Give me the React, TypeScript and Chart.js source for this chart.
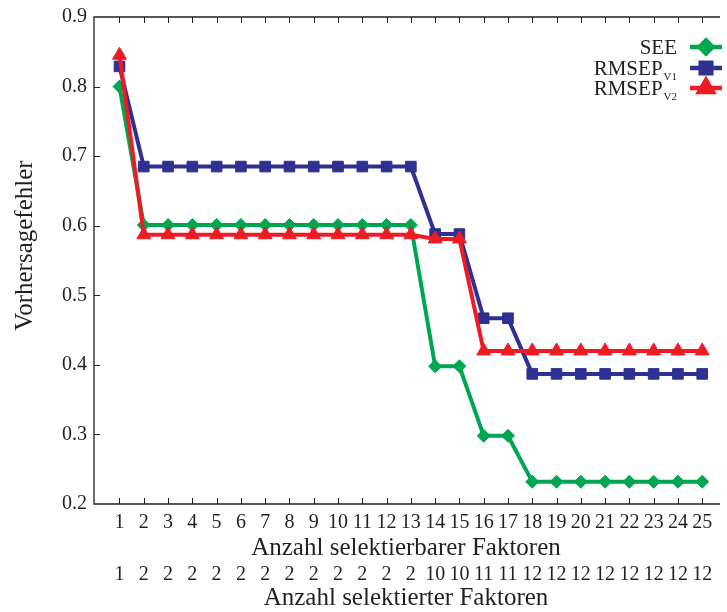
import { useEffect, useRef } from "react";
import { Chart, registerables } from "chart.js";
import { drawPoint } from "chart.js/helpers";

Chart.register(...registerables);

// Number of selectable factors (x axis) and how many were actually selected
const selectableFactors = [1, 2, 3, 4, 5, 6, 7, 8, 9, 10, 11, 12, 13, 14, 15, 16, 17, 18, 19, 20, 21, 22, 23, 24, 25];
const selectedFactors = [1, 2, 2, 2, 2, 2, 2, 2, 2, 2, 2, 2, 2, 10, 10, 11, 11, 12, 12, 12, 12, 12, 12, 12, 12];

// Prediction errors
const seeValues = [0.8, 0.601, 0.601, 0.601, 0.601, 0.601, 0.601, 0.601, 0.601, 0.601, 0.601, 0.601, 0.601, 0.398, 0.398, 0.298, 0.298, 0.232, 0.232, 0.232, 0.232, 0.232, 0.232, 0.232, 0.232];
const rmsepV1Values = [0.829, 0.685, 0.685, 0.685, 0.685, 0.685, 0.685, 0.685, 0.685, 0.685, 0.685, 0.685, 0.685, 0.588, 0.588, 0.467, 0.467, 0.387, 0.387, 0.387, 0.387, 0.387, 0.387, 0.387, 0.387];
const rmsepV2Values = [0.845, 0.587, 0.587, 0.587, 0.587, 0.587, 0.587, 0.587, 0.587, 0.587, 0.587, 0.587, 0.587, 0.581, 0.581, 0.42, 0.42, 0.42, 0.42, 0.42, 0.42, 0.42, 0.42, 0.42, 0.42];

const yTickValues = [0.2, 0.3, 0.4, 0.5, 0.6, 0.7, 0.8, 0.9];

const yTitle = "Vorhersagefehler";
const legendMain = ["SEE", "RMSEP", "RMSEP"];
const legendSub = ["", "V1", "V2"];

const FONT = "'Liberation Serif', 'Times New Roman', serif";
const INK = "#231f20";
const GREEN = "#00a651";
const BLUE = "#2e3192";
const RED = "#ed1c24";

const toPoints = (values: number[]) => values.map((v, i) => ({ x: selectableFactors[i], y: v }));

// Box on left/top/bottom with tick marks pointing inwards, plus the y-axis title
const framePlugin = {
  id: "frame",
  beforeDatasetsDraw(chart: any) {
    const { ctx, chartArea, scales } = chart;
    const { left, top, right, bottom } = chartArea;
    ctx.save();
    ctx.strokeStyle = INK;
    ctx.lineWidth = 1.3;
    ctx.beginPath();
    ctx.moveTo(right + 2, top);
    ctx.lineTo(left, top);
    ctx.lineTo(left, bottom);
    ctx.lineTo(right + 2, bottom);
    ctx.stroke();
    ctx.lineWidth = 1;
    ctx.beginPath();
    scales.x.ticks.forEach((t: any) => {
      const px = Math.round(scales.x.getPixelForValue(t.value)) + 0.5;
      ctx.moveTo(px, bottom);
      ctx.lineTo(px, bottom - 6);
      ctx.moveTo(px, top);
      ctx.lineTo(px, top + 6);
    });
    scales.y.ticks.forEach((t: any) => {
      const py = Math.round(scales.y.getPixelForValue(t.value)) + 0.5;
      if (py > top + 1 && py < bottom - 1) {
        ctx.moveTo(left, py);
        ctx.lineTo(left + 6, py);
      }
    });
    ctx.stroke();

    // rotated y-axis title, sitting slightly above the plot's middle
    ctx.translate(25, (top + bottom) / 2 - 15);
    ctx.rotate(-Math.PI / 2);
    ctx.font = `25px ${FONT}`;
    ctx.fillStyle = INK;
    ctx.textAlign = "center";
    ctx.textBaseline = "middle";
    ctx.fillText(yTitle, 0, 0);
    ctx.restore();
  },
};

// Legend in the upper right: label text, then a line sample with marker
const legendPlugin = {
  id: "seriesLegend",
  afterDatasetsDraw(chart: any) {
    const { ctx } = chart;
    const textRight = 677;
    const lineStart = 690;
    const lineEnd = 722;
    const rows = [47, 68, 88];
    ctx.save();
    chart.data.datasets.forEach((ds: any, i: number) => {
      const y = rows[i];
      ctx.strokeStyle = ds.borderColor;
      ctx.lineWidth = 4.5;
      ctx.beginPath();
      ctx.moveTo(lineStart, y);
      ctx.lineTo(lineEnd, y);
      ctx.stroke();
      ctx.fillStyle = ds.backgroundColor;
      drawPoint(ctx, { pointStyle: ds.pointStyle, radius: ds.pointRadius, borderWidth: 1, rotation: 0 } as any, (lineStart + lineEnd) / 2, y);

      ctx.fillStyle = INK;
      ctx.textBaseline = "middle";
      ctx.textAlign = "right";
      let right = textRight;
      if (legendSub[i]) {
        ctx.font = `11px ${FONT}`;
        ctx.fillText(legendSub[i], right, y + 9);
        right -= ctx.measureText(legendSub[i]).width + 1;
      }
      ctx.font = `21px ${FONT}`;
      ctx.fillText(legendMain[i], right, y + 1);
    });
    ctx.restore();
  },
};

const tickFont = { family: FONT, size: 20, lineHeight: 1 };
const titleFont = { family: FONT, size: 25, lineHeight: 1 };

export default function App() {
  const canvasRef = useRef<HTMLCanvasElement | null>(null);

  useEffect(() => {
    if (!canvasRef.current) return;
    const setFactorTicks = (scale: any) => {
      scale.ticks = selectableFactors.map((v) => ({ value: v }));
    };
    const chart = new Chart(canvasRef.current, {
      type: "line",
      data: {
        datasets: [
          {
            label: "SEE",
            data: toPoints(seeValues),
            borderColor: GREEN,
            backgroundColor: GREEN,
            borderWidth: 4,
            pointStyle: "rectRot",
            pointRadius: 6.5,
            pointBorderWidth: 1,
            tension: 0,
            order: 2,
          },
          {
            label: "RMSEP V1",
            data: toPoints(rmsepV1Values),
            borderColor: BLUE,
            backgroundColor: BLUE,
            borderWidth: 4,
            pointStyle: "rect",
            pointRadius: 7.5,
            pointBorderWidth: 1,
            tension: 0,
            order: 1,
          },
          {
            label: "RMSEP V2",
            data: toPoints(rmsepV2Values),
            borderColor: RED,
            backgroundColor: RED,
            borderWidth: 4,
            pointStyle: "triangle",
            pointRadius: 8,
            pointBorderWidth: 1,
            tension: 0,
            order: 0,
          },
        ],
      },
      options: {
        responsive: false,
        animation: false,
        layout: { padding: { top: 17, left: 0, right: 0, bottom: 0 } },
        plugins: { legend: { display: false }, tooltip: { enabled: false } },
        elements: { line: { borderJoinStyle: "miter" } },
        scales: {
          x: {
            type: "linear",
            position: "bottom",
            weight: 0,
            min: -0.05,
            max: 25.65,
            afterBuildTicks: setFactorTicks,
            afterFit: (s: any) => {
              s.height = 57;
            },
            grid: { display: false, drawTicks: false },
            border: { display: false },
            ticks: {
              font: tickFont,
              color: INK,
              padding: 8.5,
              autoSkip: false,
              maxRotation: 0,
              callback: (v: any) => String(v),
            },
            title: {
              display: true,
              text: "Anzahl selektierbarer Faktoren",
              font: titleFont,
              color: INK,
              padding: { top: 0, bottom: 0 },
            },
          },
          x2: {
            type: "linear",
            position: "bottom",
            weight: 1,
            min: -0.05,
            max: 25.65,
            afterBuildTicks: setFactorTicks,
            afterFit: (s: any) => {
              s.height = 51;
            },
            grid: { display: false, drawTicks: false },
            border: { display: false },
            ticks: {
              font: tickFont,
              color: INK,
              padding: 3.5,
              autoSkip: false,
              maxRotation: 0,
              callback: (v: any) => String(selectedFactors[selectableFactors.indexOf(v)]),
            },
            title: {
              display: true,
              text: "Anzahl selektierter Faktoren",
              font: titleFont,
              color: INK,
              padding: { top: 0, bottom: 1 },
            },
          },
          y: {
            type: "linear",
            position: "left",
            min: 0.2,
            max: 0.9,
            afterBuildTicks: (s: any) => {
              s.ticks = yTickValues.map((v) => ({ value: v }));
            },
            afterFit: (s: any) => {
              s.width = 94;
            },
            grid: { display: false, drawTicks: false },
            border: { display: false },
            ticks: {
              font: tickFont,
              color: INK,
              padding: 7,
              callback: (v: any) => Number(v).toFixed(1),
            },
            title: { display: false },
          },
        },
      },
      plugins: [framePlugin, legendPlugin],
    });
    return () => chart.destroy();
  }, []);

  return (
    <div style={{ position: "fixed", left: 0, top: 0, width: 727, height: 612, background: "#fff" }}>
      <canvas ref={canvasRef} width={727} height={612} style={{ display: "block" }} />
    </div>
  );
}
